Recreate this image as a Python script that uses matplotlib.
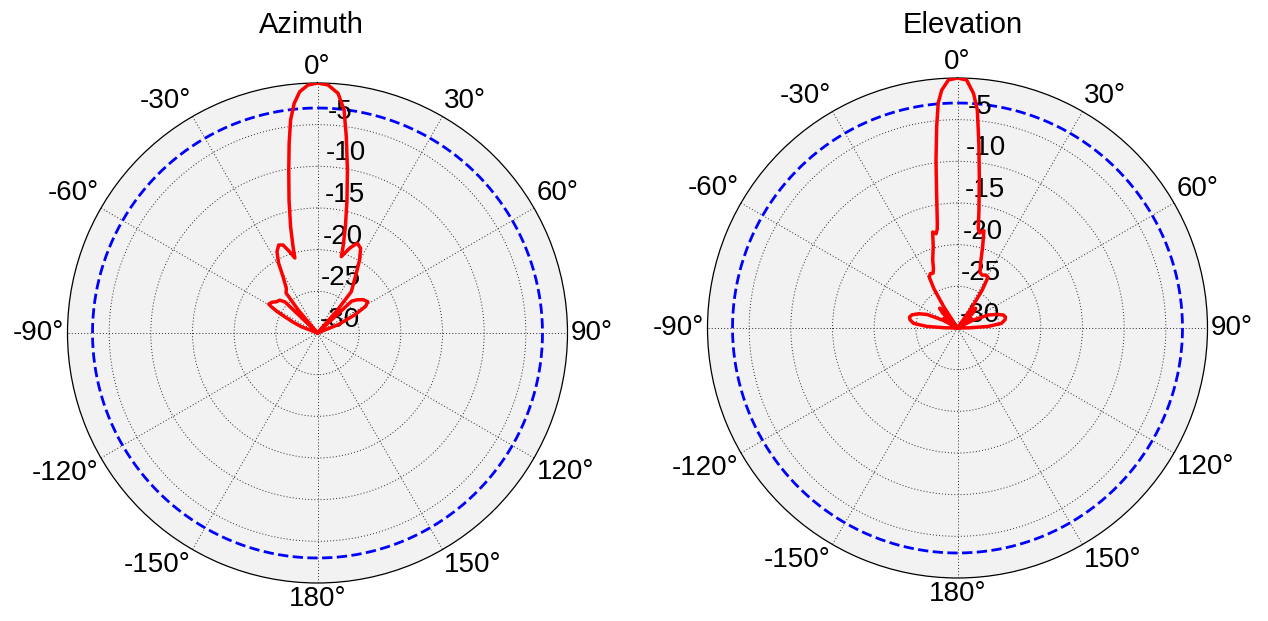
import numpy as np
import matplotlib
matplotlib.use("Agg")
import matplotlib.pyplot as plt

plt.rcParams['font.family'] = ['Liberation Sans', 'DejaVu Sans']

# ---------------- data ----------------
az_theta_deg = [-180, -90, -71, -68.7, -66, -63.6, -62, -60.3, -59.3, -56, -52.8, -49, -46.3,
                -44, -42, -40, -38.2, -34.9, -31.5, -29.1, -26.5, -23.8, -21.4, -18.9, -16.8,
                -15.8, -14.2, -12.1, -10.0, -8.5, -7.2, -5.8, -4.2, -2.2, 0,
                2.4, 4.9, 6.8, 8.35, 10.4, 12.5, 14.7, 16.5, 17.3, 20.8, 23.9, 27, 30, 33,
                36.5, 39.3, 41, 43, 45, 47, 50, 54, 58.2, 61, 64, 68, 71, 90, 180]
az_gain_db = [-30, -30, -30, -27.9, -26.8, -25.6, -24.5, -23.6, -23.2, -23.4, -23.8, -24.0, -24.6,
              -30, -30, -26.5, -23.9, -23.46, -22.1, -20.4, -19.1, -18.46, -18.66, -19.7, -20.6,
              -19.2, -16.85, -13.7, -10.14, -6.98, -4.24, -2.3, -0.96, -0.22, 0,
              -0.2, -1.13, -3.05, -6.2, -10.1, -13.65, -16.8, -19.2, -20.4, -19.1, -18.2, -18.6, -19.9, -21.45,
              -22.8, -23.6, -26.5, -30, -30, -24.4, -23.8, -23.2, -22.9, -23.4, -25.0, -27.3, -30, -30, -30]

el_theta_deg = [-180, -90.5, -89, -87, -84, -80, -77, -74, -70, -66, -62, -60, -58, -55, -52, -50,
                -48, -45, -42, -39, -37, -34.5, -33, -31, -29, -26.5, -24, -22, -20, -16.6,
                -14.5, -12.8, -11.6, -10.9, -8.8, -7.3, -5.9, -4.9, -3.8, -2.1, 0,
                2.1, 3.9, 5.2, 6.6, 8.2, 10.3, 11.8, 13, 15.2, 17.2, 19.7, 22, 25, 28, 31,
                33, 35, 36.5, 38, 40, 43, 46, 49, 51, 53, 56, 59, 61, 63, 67, 71, 74, 77, 80,
                84, 87, 89, 90.5, 180]
el_gain_db = [-30, -30, -28.5, -26.3, -24.7, -24.2, -24.1, -24.3, -25, -26, -28, -30, -30, -28, -28.5, -30,
              -30, -27.5, -26.8, -27.5, -30, -30, -27, -24.5, -23.0, -22.7, -22.8, -22.3, -21.3, -19.8,
              -18.1, -18.4, -17.9, -17.2, -13.6, -9.7, -5.7, -2.9, -1.4, -0.22, 0,
              -0.22, -1.78, -3.73, -7.7, -11.65, -15.6, -17.8, -18.3, -17.9, -19.8, -21.8, -22.8, -23.0, -22.8, -22.9,
              -24.5, -27, -30, -30, -27.5, -26.8, -27.5, -30, -30, -28.5, -28, -30, -30, -28, -26, -25, -24.3, -24.1, -24.2,
              -24.7, -26.3, -28.5, -30, -30]

titles = ['Azimuth', 'Elevation']
r_ticks = [-30, -25, -20, -15, -10, -5]
r_tick_labels = ['-30', '-25', '-20', '-15', '-10', '-5']
theta_ticks = [0, 30, 60, 90, 120, 150, 180, 210, 240, 270, 300, 330]
theta_labels = ['0°', '30°', '60°', '90°', '120°', '150°', '180°',
                '-150°', '-120°', '-90°', '-60°', '-30°']
ref_level_db = -3
r_min, r_max = -30, 0

# ---------------- figure ----------------
W, H = 1268, 621
fig = plt.figure(figsize=(W / 100, H / 100), dpi=100)

axes_px = [(67.5, 38, 500, 500), (707.5, 43, 500, 500)]   # left, bottom, w, h in pixels
title_pad_pt = [36, 32.4]
title_x = [0.487, 0.511]
series = [(az_theta_deg, az_gain_db), (el_theta_deg, el_gain_db)]

for i, (l, b, w, h) in enumerate(axes_px):
    ax = fig.add_axes([l / W, b / H, w / W, h / H], projection='polar')
    ax.set_theta_zero_location('N')
    ax.set_theta_direction(-1)
    ax.set_facecolor('#f2f2f2')
    ax.set_rlim(r_min, r_max)
    ax.set_yticks(r_ticks[1:])
    ax.set_yticklabels([])
    ax.set_xticks(np.deg2rad(theta_ticks))
    ax.set_xticklabels([])
    ax.tick_params(axis='both', length=0)
    ax.grid(True, color='#2a2a2a', linestyle=(0, (1, 2.2)), linewidth=0.7)
    ax.spines['polar'].set_color('black')
    ax.spines['polar'].set_linewidth(0.9)

    # reference level circle
    tc = np.linspace(0, 2 * np.pi, 721)
    ax.plot(tc, np.full_like(tc, ref_level_db), color='blue', linestyle='--',
            linewidth=2, zorder=3)

    # radial labels
    for rv, rl in zip(r_ticks, r_tick_labels):
        ax.annotate(rl, xy=(np.deg2rad(2.3), rv), xytext=(2, 0),
                    textcoords='offset pixels', ha='left', va='bottom',
                    fontsize=20, color='black', zorder=4)

    # angular labels
    for tv, tl in zip(theta_ticks, theta_labels):
        a = np.deg2rad(tv)
        s, c = np.sin(a), np.cos(a)
        ha = 'center' if abs(s) < 1e-6 else ('left' if s > 0 else 'right')
        va = 'center' if abs(c) < 1e-6 else ('bottom' if c > 0 else 'top')
        ax.annotate(tl, xy=(a, r_max), xytext=(3 * s, 3 * c),
                    textcoords='offset pixels', ha=ha, va=va, fontsize=20,
                    annotation_clip=False)

    th, g = series[i]
    g = np.maximum(np.asarray(g, dtype=float), r_min)
    ax.plot(np.deg2rad(th), g, color='red', linewidth=2.5, zorder=5,
            solid_joinstyle='round')

    ax.set_title(titles[i], fontsize=21, x=title_x[i], y=1.0, pad=title_pad_pt[i])

fig.savefig('out.png', dpi=100)
